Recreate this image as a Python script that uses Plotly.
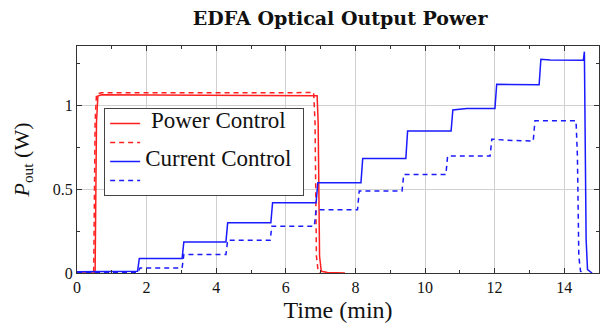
import plotly.graph_objects as go

# Power Control (solid red)
pc_t = [0, 0.52, 0.56, 0.60, 0.70, 2.0, 4.0, 6.0, 6.90, 6.93, 6.97, 7.02, 7.2, 7.7]
pc_p = [0, 0.0, 0.9, 1.058, 1.066, 1.064, 1.062, 1.061, 1.060, 0.9, 0.1, 0.01, 0.003, 0.0]
# Power Control (dashed red)
pcd_t = [0, 0.48, 0.52, 0.56, 0.70, 2.0, 4.0, 6.0, 6.80, 6.84, 6.88, 6.93, 7.0]
pcd_p = [0, 0.0, 0.9, 1.07, 1.078, 1.077, 1.076, 1.077, 1.08, 0.9, 0.1, 0.01, 0.0]
# Current Control (solid blue)
cc_t = [0, 1.74, 1.79, 3.02, 3.07, 4.28, 4.33, 5.57, 5.62, 6.87, 6.92, 8.16, 8.21,
        9.45, 9.50, 10.75, 10.80, 11.2, 12.01, 12.06, 13.28, 13.33, 13.6, 14.55,
        14.58, 14.60, 14.63, 14.67, 14.8]
cc_p = [0.008, 0.01, 0.086, 0.086, 0.186, 0.186, 0.30, 0.30, 0.42, 0.42, 0.54, 0.54, 0.685,
        0.685, 0.849, 0.849, 0.975, 0.984, 0.984, 1.128, 1.125, 1.278, 1.274, 1.272,
        1.323, 1.0, 0.2, 0.02, 0.0]
# Current Control (dashed blue)
ccd_t = [0, 1.76, 1.81, 3.02, 3.07, 4.28, 4.33, 5.55, 5.60, 6.82, 6.87, 8.06, 8.11,
         9.34, 9.39, 10.60, 10.65, 11.87, 11.92, 12.5, 13.11, 13.16, 14.34, 14.38,
         14.42, 14.47, 14.55]
ccd_p = [0.005, 0.005, 0.03, 0.03, 0.11, 0.11, 0.196, 0.196, 0.28, 0.28, 0.378, 0.378, 0.49,
         0.49, 0.589, 0.589, 0.699, 0.699, 0.80, 0.792, 0.789, 0.91, 0.91, 0.7,
         0.1, 0.01, 0.0]

x_ticks = [0, 2, 4, 6, 8, 10, 12, 14]
y_ticks = [0, 0.5, 1]
y_tick_text = ["0", "0.5", "1"]

RED = "#ff1f1f"
BLUE = "#1a1aff"
SERIF = "Liberation Serif"
LEG = '<span style="font-size:23px">{}</span>'

fig = go.Figure()
fig.add_trace(go.Scatter(x=pc_t, y=pc_p, mode="lines", name=LEG.format("&nbsp;Power Control"),
                         line=dict(color=RED, width=1.5)))
fig.add_trace(go.Scatter(x=pcd_t, y=pcd_p, mode="lines", name=LEG.format(" "),
                         line=dict(color=RED, width=1.5, dash="5px,4px")))
fig.add_trace(go.Scatter(x=cc_t, y=cc_p, mode="lines", name=LEG.format("Current Control&nbsp;"),
                         line=dict(color=BLUE, width=1.5)))
fig.add_trace(go.Scatter(x=ccd_t, y=ccd_p, mode="lines", name=LEG.format("  "),
                         line=dict(color=BLUE, width=1.5, dash="5px,4px")))

axis_common = dict(
    showline=True, linecolor="#333", linewidth=1, mirror="ticks",
    ticks="inside", ticklen=5, tickcolor="#333",
    showgrid=True, gridcolor="#d0d0d0", gridwidth=1, zeroline=False,
    tickfont=dict(family=SERIF, size=16, color="#111"),
)

fig.update_layout(
    width=603, height=326,
    margin=dict(l=77, r=4, t=46, b=53),
    paper_bgcolor="white", plot_bgcolor="white",
    title=dict(text="<b>EDFA Optical Output Power</b>", x=0.564, xanchor="center",
               y=0.945, yanchor="middle",
               font=dict(family="DejaVu Serif", size=19, color="#111")),
    xaxis=dict(range=[0, 15], tickvals=x_ticks,
               minor=dict(dtick=1, ticks="inside", ticklen=3, tickcolor="#333", showgrid=False),
               title=dict(text="Time (min)", font=dict(family=SERIF, size=24, color="#111"), standoff=5),
               **axis_common),
    yaxis=dict(range=[0, 1.357], tickvals=y_ticks, ticktext=y_tick_text,
               minor=dict(dtick=0.25, ticks="inside", ticklen=3, tickcolor="#333", showgrid=False),
               title=dict(text="<i>P</i><sub>out</sub> (W)", font=dict(family=SERIF, size=22, color="#111"), standoff=17),
               **axis_common),
    showlegend=True,
    legend=dict(x=0.052, y=0.727, xanchor="left", yanchor="top",
                bgcolor="white", bordercolor="#444", borderwidth=1,
                font=dict(family=SERIF, size=12, color="#111"),
                tracegroupgap=0, itemwidth=30),
)

fig.write_html("out.html")
